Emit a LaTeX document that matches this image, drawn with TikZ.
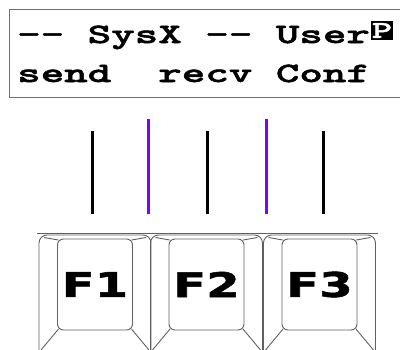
\documentclass[tikz,border=0pt]{standalone}
\usepackage{fontspec}
\newfontfamily\lcdFont{lmmonolt10-bold.otf}[FakeStretch=1.6,FakeBold=1.8,Ligatures=TeXOff]
\newfontfamily\keyFont[FakeStretch=1.42,FakeBold=1.6]{DejaVu Sans}
\definecolor{lcdFrame}{HTML}{707070}
\definecolor{keyLine}{HTML}{606060}
\definecolor{pageMark}{HTML}{8000FF}
\newcommand{\lcdText}[2]{{\lcdFont\fontsize{#1}{#1}\selectfont #2}}
\newcommand{\keyLabel}[1]{{\keyFont\bfseries\fontsize{34}{34}\selectfont #1}}
\newcommand{\softKey}[3]{%
  \draw[keyLine, line width=0.9pt, rounded corners=8pt] (#2-56,358) -- (#2-56,235) -- (#2+56,235) -- (#2+56,358);
  \node[keyface] (#1) at (#2,284.5) {\keyLabel{#3}};
  \draw[keyLine, line width=0.9pt] ([shift={(1.5,1.5)}]#1.north west) -- (#2-51,237.5);
  \draw[keyLine, line width=0.9pt] ([shift={(-1.5,1.5)}]#1.north east) -- (#2+51,237.5);
  \draw[keyLine, line width=0.9pt] ([shift={(1.5,-1.5)}]#1.south west) -- (#2-54,350);
  \draw[keyLine, line width=0.9pt] ([shift={(-1.5,-1.5)}]#1.south east) -- (#2+54,350);
}

\begin{document}
\begin{tikzpicture}[x=1pt,y=-1pt,
  keyface/.style={draw=keyLine, line width=0.9pt, rounded corners=6pt, minimum width=75pt, minimum height=91pt, inner sep=0pt},
  softline/.style={line width=3pt},
  lcdrow/.style={anchor=base west, inner sep=0pt}]
\useasboundingbox (0,0) rectangle (400,349);
% display
\node[draw=lcdFrame, line width=1.2pt, anchor=north west, minimum width=400pt, minimum height=88pt, inner sep=0pt] (lcd) at (9,9) {};
\node[lcdrow] (row1) at (17,43) {\lcdText{28}{-- SysX -- User}};
\node[fill=black, text=white, minimum width=22pt, minimum height=19pt, inner sep=0pt] (page) at (382,30.5) {\lcdText{24}{P}};
\node[lcdrow] (row2) at (17,82) {\lcdText{28}{send\ \ recv Conf}};
% softlines
\coordinate (m1t) at (92,131);  \coordinate (m1b) at (92,214);
\coordinate (m2t) at (148,119); \coordinate (m2b) at (148,214);
\coordinate (m3t) at (207,131); \coordinate (m3b) at (207,214);
\coordinate (m4t) at (266,119); \coordinate (m4b) at (266,214);
\coordinate (m5t) at (323,131); \coordinate (m5b) at (323,214);
\draw[softline] (m1t) -- (m1b);
\draw[softline, pageMark] (m2t) -- (m2b);
\draw[softline] (m3t) -- (m3b);
\draw[softline, pageMark] (m4t) -- (m4b);
\draw[softline] (m5t) -- (m5b);
% keys
\draw[keyLine, line width=0.9pt] (37,233) -- (378,233);
\softKey{f1}{95}{F1}
\softKey{f2}{206.5}{F2}
\softKey{f3}{319.5}{F3}
\end{tikzpicture}
\end{document}
